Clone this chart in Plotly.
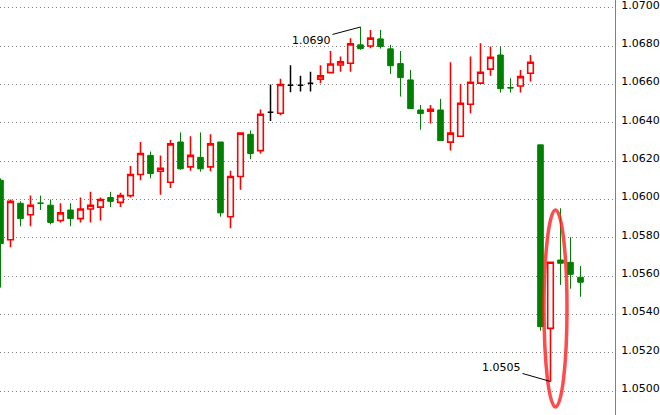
import plotly.graph_objects as go

# ---- data ----
idx = list(range(59))
opens = [1.0610, 1.0579, 1.0598, 1.0592, 1.05981, 1.0597, 1.0589, 1.05945, 1.0590, 1.0595,
         1.0596, 1.0601, 1.05985, 1.0602, 1.0613, 1.0623, 1.06147, 1.0609, 1.0630, 1.0617,
         1.0622, 1.0617, 1.0630, 1.0591, 1.0612, 1.0634, 1.06255, 1.06455, 1.0645, 1.06596,
         1.06596, 1.06607, 1.06628, 1.06662, 1.06702, 1.06711, 1.06807, 1.06801, 1.06838, 1.06786,
         1.06709, 1.06624, 1.06467, 1.0646, 1.06467, 1.06299, 1.0633, 1.06497, 1.06607, 1.0668,
         1.06754, 1.06584, 1.06592, 1.06659, 1.06285, 1.05327, 1.05684, 1.05672, 1.05594]
highs = [1.0611, 1.0600, 1.0599, 1.0602, 1.0602, 1.0600, 1.0598, 1.0598, 1.0601, 1.0604,
         1.0601, 1.0604, 1.06035, 1.06175, 1.0630, 1.0625, 1.0623, 1.0631, 1.0635, 1.0633,
         1.0635, 1.0634, 1.0630, 1.0615, 1.0635, 1.0636, 1.0647, 1.0660, 1.0663, 1.0670,
         1.06645, 1.06667, 1.0670, 1.06775, 1.06746, 1.06841, 1.0690, 1.06885, 1.06885, 1.06807,
         1.06775, 1.06676, 1.06493, 1.06493, 1.06525, 1.06716, 1.06603, 1.06746, 1.06815, 1.06798,
         1.06798, 1.06633, 1.06676, 1.06754, 1.06285, 1.05672, 1.05954, 1.05803, 1.05653]
lows = [1.0554, 1.0575, 1.0586, 1.0586, 1.05945, 1.0587, 1.0588, 1.0586, 1.0588, 1.0588,
        1.0589, 1.0596, 1.0596, 1.0601, 1.0610, 1.0611, 1.06025, 1.0606, 1.06155, 1.0615,
        1.06145, 1.06147, 1.0591, 1.0585, 1.0605, 1.0621, 1.0624, 1.0641, 1.0644, 1.0656,
        1.06563, 1.06563, 1.06607, 1.06659, 1.06667, 1.06667, 1.06781, 1.06789, 1.06787, 1.06655,
        1.06537, 1.06474, 1.06364, 1.06396, 1.06307, 1.06255, 1.0633, 1.0645, 1.06607, 1.06646,
        1.06558, 1.06558, 1.06558, 1.06615, 1.05315, 1.0505, 1.05554, 1.05534, 1.05492]
closes = [1.0577, 1.0599, 1.0590, 1.0597, 1.0598, 1.0588, 1.0593, 1.0590, 1.0595, 1.0597,
          1.0600, 1.0599, 1.0602, 1.0613, 1.0624, 1.06135, 1.06163, 1.0629, 1.0616, 1.0623,
          1.0616, 1.0629, 1.0593, 1.0612, 1.06346, 1.0624, 1.06445, 1.06455, 1.0660, 1.06596,
          1.06596, 1.06607, 1.06645, 1.06707, 1.06718, 1.06812, 1.06787, 1.06842, 1.06798, 1.06698,
          1.06636, 1.06474, 1.06448, 1.06471, 1.06307, 1.06346, 1.06502, 1.06612, 1.06664, 1.06742,
          1.06578, 1.06582, 1.06641, 1.06716, 1.05336, 1.05672, 1.05667, 1.05609, 1.05568]
black_doji = [27, 29, 30, 31]
tick_vals = [1.0500, 1.0520, 1.0540, 1.0560, 1.0580, 1.0600, 1.0620, 1.0640, 1.0660, 1.0680, 1.0700]
tick_text = ["1.0500", "1.0520", "1.0540", "1.0560", "1.0580", "1.0600", "1.0620", "1.0640",
             "1.0660", "1.0680", "1.0700"]
high_label = "1.0690"
low_label = "1.0505"
high_idx = 36
low_idx = 55

main = [i for i in idx if i not in black_doji]

fig = go.Figure()
fig.add_trace(go.Candlestick(
    x=[idx[i] for i in main],
    open=[opens[i] for i in main], high=[highs[i] for i in main],
    low=[lows[i] for i in main], close=[closes[i] for i in main],
    increasing=dict(line=dict(color="#ff0000", width=1.6), fillcolor="#ffffff"),
    decreasing=dict(line=dict(color="#008000", width=1), fillcolor="#008000"),
    whiskerwidth=0, hoverinfo="skip", showlegend=False,
))
fig.add_trace(go.Candlestick(
    x=[idx[i] for i in black_doji],
    open=[opens[i] for i in black_doji], high=[highs[i] for i in black_doji],
    low=[lows[i] for i in black_doji], close=[closes[i] for i in black_doji],
    increasing=dict(line=dict(color="#000000", width=1.5), fillcolor="#000000"),
    decreasing=dict(line=dict(color="#000000", width=1.5), fillcolor="#000000"),
    whiskerwidth=0, hoverinfo="skip", showlegend=False,
))

fnt = dict(family="DejaVu Sans", size=11, color="#000000")
fig.add_annotation(x=idx[high_idx], y=highs[high_idx], text=high_label, showarrow=True,
                   arrowhead=0, arrowwidth=1, arrowcolor="#000000", ax=-49, ay=13,
                   font=fnt, standoff=0)
fig.add_annotation(x=idx[low_idx], y=lows[low_idx], text=low_label, showarrow=True,
                   arrowhead=0, arrowwidth=1, arrowcolor="#000000", ax=-49, ay=-14,
                   font=fnt, standoff=0)
fig.add_shape(type="circle", xref="x", yref="y", x0=54.35, x1=56.65, y0=1.04917, y1=1.05945,
              line=dict(color="rgba(255,30,30,0.8)", width=3.5), layer="above")

fig.update_layout(
    width=660, height=415, margin=dict(l=0, r=45, t=0, b=0),
    paper_bgcolor="#ffffff", plot_bgcolor="#ffffff",
    boxgap=0.2, showlegend=False,
    xaxis=dict(range=[-0.05, 61.45], showgrid=False, zeroline=False, showticklabels=False,
               showline=False, rangeslider=dict(visible=False), fixedrange=True),
    yaxis=dict(range=[1.04875, 1.07041], side="right", tickvals=tick_vals, ticktext=tick_text,
               showgrid=True, gridcolor="#808080", gridwidth=1, griddash="1px,3px",
               zeroline=False, showline=True, linecolor="#7f7f7f", linewidth=1,
               ticks="", ticklabelstandoff=3, ticklabelshift=-3, ticklabeloverflow="allow",
               automargin=False, tickfont=fnt, fixedrange=True),
)
fig.write_html("out.html", config={"displayModeBar": False},
               post_script="document.body.style.margin='0px';document.body.style.padding='0px';")
